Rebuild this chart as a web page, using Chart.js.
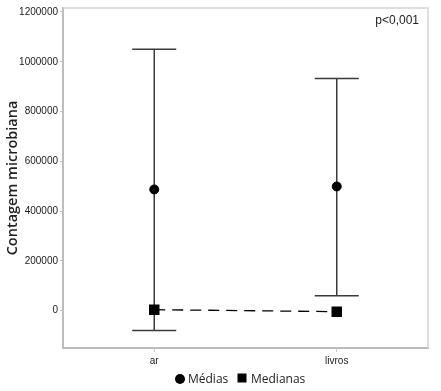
<!DOCTYPE html>
<html><head><meta charset="utf-8">
<script src="https://cdn.jsdelivr.net/npm/chart.js@4"></script>
<style>html,body{margin:0;padding:0;background:#fff}#wrap{width:441px;height:391px}</style>
</head><body><div id="wrap"><canvas id="c"></canvas></div>
<script>
const categories = ['ar', 'livros'];
const means = [487000, 499000];
const medians = [4000, -4000];
const upper = [1050000, 933000];
const lower = [-80000, 60000];
const yTicks = [0, 200000, 400000, 600000, 800000, 1000000, 1200000];
const pLabel = 'p<0,001';
const seriesNames = ['Médias', 'Medianas'];

const whiskerPlugin = {
  id: 'whiskers',
  beforeDatasetsDraw(chart) {
    const {ctx, scales: {x, y}} = chart;
    ctx.save();
    ctx.strokeStyle = '#3a3a3a';
    ctx.lineWidth = 1.5;
    categories.forEach((c, i) => {
      const px = x.getPixelForValue(i);
      const hi = y.getPixelForValue(upper[i]);
      const lo = y.getPixelForValue(lower[i]);
      const hw = 22;
      ctx.beginPath();
      ctx.moveTo(px, hi); ctx.lineTo(px, lo);
      ctx.moveTo(px - hw, hi); ctx.lineTo(px + hw, hi);
      ctx.moveTo(px - hw, lo); ctx.lineTo(px + hw, lo);
      ctx.stroke();
    });
    ctx.restore();
  },
  afterDraw(chart) {
    const {ctx, chartArea: a} = chart;
    ctx.save();
    ctx.strokeStyle = '#d4d4d4';
    ctx.lineWidth = 1.5;
    ctx.beginPath();
    ctx.moveTo(a.left, a.top); ctx.lineTo(a.right, a.top); ctx.lineTo(a.right, a.bottom);
    ctx.stroke();
    ctx.fillStyle = '#222';
    ctx.font = '12px "Liberation Sans", sans-serif';
    ctx.textAlign = 'right';
    ctx.textBaseline = 'middle';
    ctx.fillText(pLabel, a.right - 9, a.top + 13);
    // legend
    const ly = 379;
    ctx.fillStyle = '#000';
    ctx.beginPath();
    ctx.arc(180, ly, 5, 0, Math.PI * 2);
    ctx.fill();
    ctx.fillRect(237.5, ly - 5.5, 9, 9);
    ctx.fillStyle = '#222';
    ctx.textAlign = 'left';
    ctx.font = '12px "Open Sans", sans-serif';
    ctx.fillText(seriesNames[0], 188, ly + 1);
    ctx.fillText(seriesNames[1], 251, ly + 1);
    ctx.restore();
  }
};

new Chart(document.getElementById('c'), {
  type: 'scatter',
  data: {
    datasets: [
      {
        label: seriesNames[0],
        data: means.map((v, i) => ({x: i, y: v})),
        pointStyle: 'circle',
        pointRadius: 4.5,
        backgroundColor: '#000',
        borderColor: '#000',
        showLine: false
      },
      {
        label: seriesNames[1],
        data: medians.map((v, i) => ({x: i, y: v})),
        pointStyle: 'rect',
        pointRadius: 6.5,
        backgroundColor: '#000',
        borderColor: '#000',
        showLine: true,
        borderDash: [11, 7],
        borderWidth: 1.3
      }
    ]
  },
  plugins: [whiskerPlugin],
  options: {
    responsive: true,
    maintainAspectRatio: false,
    animation: false,
    layout: {padding: {left: 0, right: 13, top: 5, bottom: 21}},
    plugins: {
      tooltip: {enabled: false},
      legend: {display: false}
    },
    scales: {
      x: {
        type: 'linear',
        min: -0.5,
        max: 1.5,
        afterBuildTicks(scale) { scale.ticks = categories.map((c, i) => ({value: i})); },
        ticks: {
          callback: (v) => categories[v],
          color: '#222',
          font: {family: '"Liberation Sans", sans-serif', size: 10},
          padding: 3
        },
        grid: {drawOnChartArea: false, drawTicks: true, tickLength: 4, color: '#c8c8c8'},
        border: {color: '#bdbdbd', width: 2}
      },
      y: {
        min: -150000,
        max: 1216000,
        afterBuildTicks(scale) { scale.ticks = yTicks.map(v => ({value: v})); },
        afterFit(scale) { scale.width = 63; },
        ticks: {
          callback: (v) => String(v),
          color: '#222',
          font: {family: '"Liberation Sans", sans-serif', size: 10},
          padding: 2
        },
        grid: {drawOnChartArea: false, drawTicks: true, tickLength: 3, color: '#bdbdbd'},
        border: {color: '#bdbdbd', width: 2},
        title: {
          display: true,
          text: 'Contagem microbiana',
          color: '#222',
          font: {family: '"Open Sans", sans-serif', size: 14.5, weight: '600'},
          padding: {top: 4, bottom: 0}
        }
      }
    }
  }
});
</script>
</body></html>
